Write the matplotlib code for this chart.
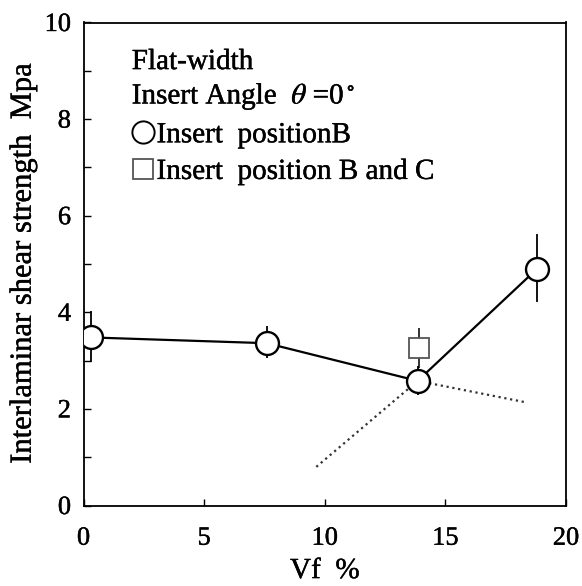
import numpy as np
import matplotlib.pyplot as plt
import matplotlib.patheffects as pe
from matplotlib.lines import Line2D
from matplotlib.ticker import MultipleLocator

plt.rcParams['font.family'] = ['Liberation Serif', 'DejaVu Serif']
plt.rcParams['mathtext.fontset'] = 'stix'

# position B data
vf_b = [0.3, 7.6, 13.85, 18.8]
tau_b = [3.48, 3.36, 2.58, 4.9]
err_lo_b = [0.5, 0.3, 0.3, 0.68]
err_hi_b = [0.55, 0.35, 0.3, 0.72]

# position B and C
vf_bc = [13.9]
tau_bc = [3.26]
err_bc = [0.42]

# dotted guide lines
guide1_x = [9.65, 13.85]
guide1_y = [0.8, 2.58]
guide2_x = [13.85, 18.4]
guide2_y = [2.58, 2.13]

thick = [pe.withStroke(linewidth=0.3, foreground='black')]

fig = plt.figure(figsize=(5.82, 5.86), dpi=100)
ax = fig.add_axes([83.5 / 582, 1 - 505.5 / 586, 482.5 / 582, 483 / 586])

ax.plot(guide1_x, guide1_y, linestyle=':', color='#333333', linewidth=1.6)
ax.plot(guide2_x, guide2_y, linestyle=':', color='#333333', linewidth=1.6)

ax.errorbar(vf_bc, tau_bc, yerr=err_bc, fmt='s', markersize=14, markerfacecolor='white',
            markeredgecolor='#555555', markeredgewidth=1.3, ecolor='#222222', elinewidth=1.3,
            capsize=0, zorder=3)
ax.errorbar(vf_b, tau_b, yerr=[err_lo_b, err_hi_b], fmt='none', ecolor='black', elinewidth=1.3,
            capsize=0, zorder=3)
ax.plot(vf_b, tau_b, '-', color='black', linewidth=1.6, marker='o', markersize=16.5,
        markerfacecolor='white', markeredgecolor='black', markeredgewidth=1.7, zorder=4)

ax.set_xlim(0, 20)
ax.set_ylim(0, 10)
ax.xaxis.set_major_locator(MultipleLocator(5))
ax.yaxis.set_major_locator(MultipleLocator(2))
ax.yaxis.set_minor_locator(MultipleLocator(1))
ax.tick_params(direction='in', which='both', length=5, width=1, top=False, right=False,
               labelsize=19)
ax.tick_params(axis='x', pad=16)
ax.tick_params(axis='y', pad=9)
for s in ax.spines.values():
    s.set_linewidth(1.3)

xl = ax.set_xlabel('Vf  %', fontsize=21, labelpad=6)
yl = ax.set_ylabel('Interlaminar shear strength  Mpa', fontsize=22, labelpad=5)

handles = [Line2D([], [], linestyle='none', marker='o', markersize=16, markerfacecolor='white',
                  markeredgecolor='black', markeredgewidth=1.4),
           Line2D([], [], linestyle='none', marker='s', markersize=14, markerfacecolor='white',
                  markeredgecolor='#555555', markeredgewidth=1.3)]
leg = ax.legend(handles, ['Insert  positionB', 'Insert  position B and C'],
                title='Flat-width\nInsert Angle  $\\theta$ =0$^\\circ$',
                loc='upper left', bbox_to_anchor=(0.1, 0.945), frameon=False, fontsize=21,
                title_fontsize=21, handlelength=0.75, handletextpad=0.1, labelspacing=0.35,
                borderaxespad=0, borderpad=0, alignment='left')
leg.get_title().set_linespacing(1.3)

for t in ax.get_xticklabels() + ax.get_yticklabels() + leg.get_texts() + [leg.get_title(), xl, yl]:
    t.set_path_effects(thick)

fig.savefig('out.png', dpi=100)
